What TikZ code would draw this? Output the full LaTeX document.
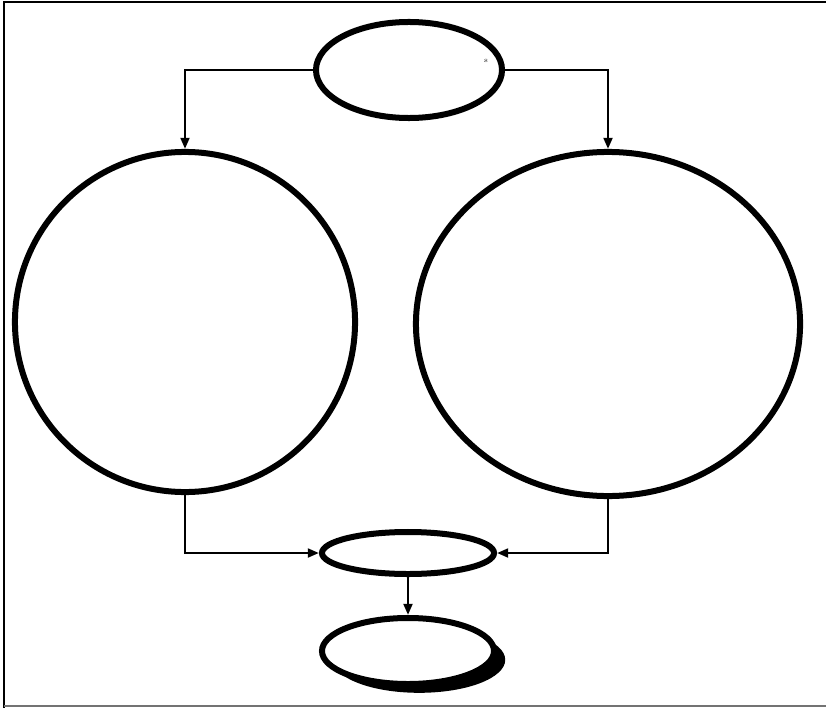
\documentclass[tikz,border=0pt]{standalone}
\usetikzlibrary{shapes.geometric,shadows,arrows.meta}
\tikzset{ebox/.style={
    ellipse,
    draw,
    line width=0.15cm,
    inner sep=0pt
  },
  sbox/.style={ebox,fill=white,drop shadow={shadow xshift=0.28cm,shadow yshift=-0.22cm,fill=black,opacity=1}},
  conn/.style={line width=0.065cm,-{Triangle[length=0.28cm,width=0.22cm]}},
}
\begin{document}
\begin{tikzpicture}[x=0.025cm,y=-0.025cm]
  \useasboundingbox (0,0) rectangle (826,708);
  \draw[line width=0.07cm] (4,708) -- (4,2) -- (826,2);
  \draw[line width=0.06cm,black!55] (4,706) -- (826,706);
  \node [ebox,minimum width=4.65cm,minimum height=2.4cm] (top) at (409,70) {};
  \node [font=\fontsize{5}{5}\selectfont] (tag) at (486,61) {s};
  \node [ebox,minimum width=8.5cm,minimum height=8.5cm] (left) at (185,322) {};
  \node [ebox,minimum width=9.6cm,minimum height=8.6cm] (right) at (608,324) {};
  \node [ebox,minimum width=4.3cm,minimum height=1.05cm] (mid) at (408,553) {};
  \node [sbox,minimum width=4.3cm,minimum height=1.65cm] (bot) at (408,651) {};
  \draw[conn] (top.west) -| (left.north);
  \draw[conn] (top.east) -| (right.north);
  \draw[conn] (left.south) |- (mid.west);
  \draw[conn] (right.south) |- (mid.east);
  \draw[conn] (mid.south) -- (bot.north);
\end{tikzpicture}
\end{document}
